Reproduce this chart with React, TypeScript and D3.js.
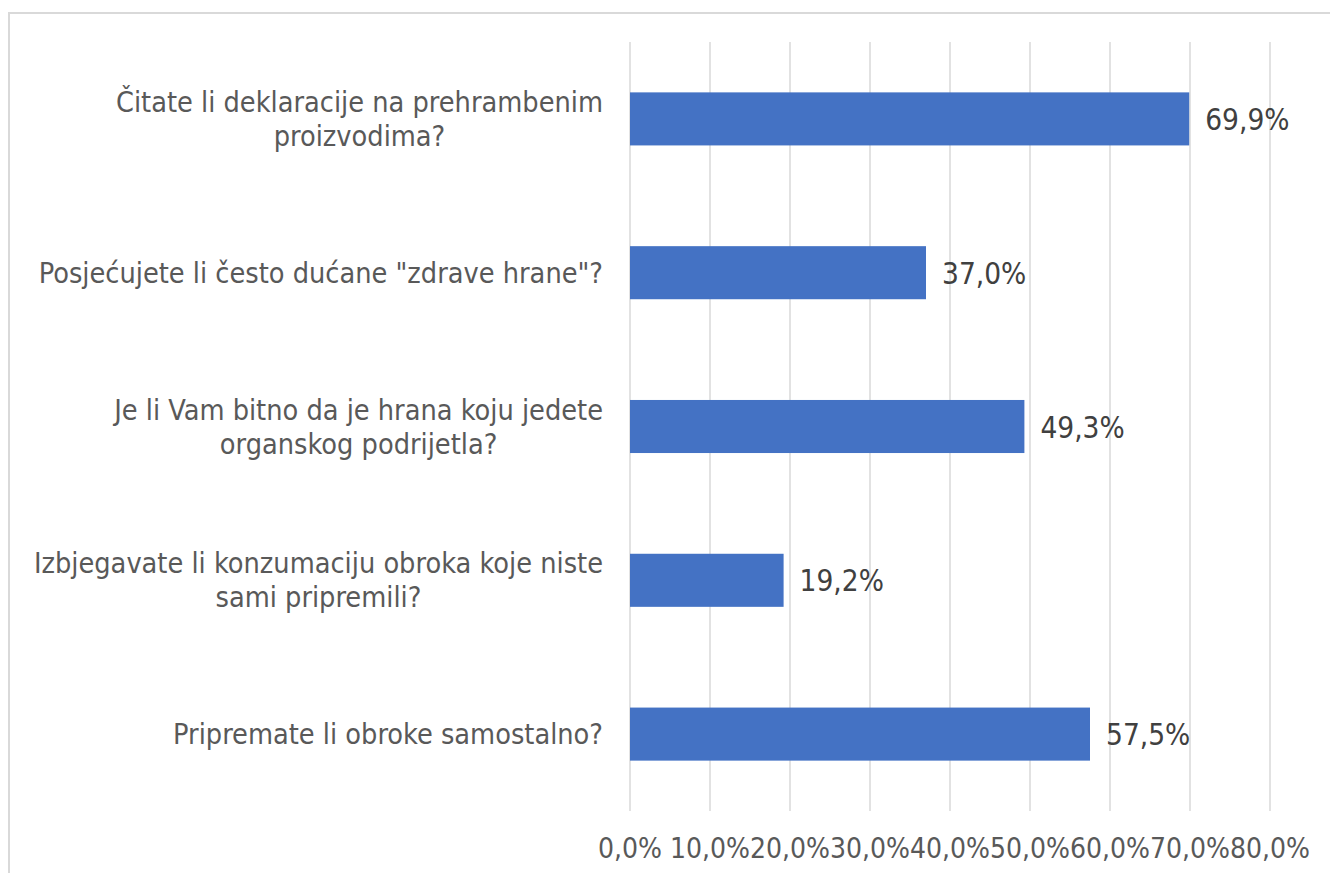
import React, { useRef, useLayoutEffect, useState } from "react";
import * as d3 from "d3";

const categories: string[][] = [
  ["Čitate li deklaracije na prehrambenim", "proizvodima?"],
  ["Posjećujete li često dućane \"zdrave hrane\"?"],
  ["Je li Vam bitno da je hrana koju jedete", "organskog podrijetla?"],
  ["Izbjegavate li konzumaciju obroka koje niste", "sami pripremili?"],
  ["Pripremate li obroke samostalno?"],
];
const values: number[] = [0.699, 0.37, 0.493, 0.192, 0.575];
const ticks: number[] = [0, 0.1, 0.2, 0.3, 0.4, 0.5, 0.6, 0.7, 0.8];

const W = 1330;
const H = 873;
const FONT = "'DejaVu Sans Condensed', 'DejaVu Sans', sans-serif";

const fmt = (v: number) => (v * 100).toFixed(1).replace(".", ",") + "%";

function CatLabel({ lines, right, cy }: { lines: string[]; right: number; cy: number }) {
  const ref = useRef<SVGGElement>(null);
  const [w, setW] = useState(0);
  useLayoutEffect(() => {
    if (!ref.current) return;
    const texts = Array.from(ref.current.querySelectorAll("text")) as SVGTextElement[];
    const m = d3.max(texts, (t) => t.getComputedTextLength()) || 0;
    setW(m);
  }, []);
  const lh = 34;
  const n = lines.length;
  const cx = right - w / 2;
  return (
    <g ref={ref}>
      {lines.map((l, i) => (
        <text
          key={i}
          x={cx}
          y={cy + 10 + (i - (n - 1) / 2) * lh}
          textAnchor="middle"
          fontSize={28.6}
          fill="#595959"
          fontFamily={FONT}
        >
          {l}
        </text>
      ))}
    </g>
  );
}

export default function App() {
  const x = d3.scaleLinear().domain([0, 0.8]).range([630, 1270]);
  const y = d3
    .scaleBand<number>()
    .domain(d3.range(categories.length))
    .range([42, 811])
    .paddingInner(0.655)
    .paddingOuter(0.3275);

  return (
    <svg width={W} height={H} style={{ position: "absolute", left: 0, top: 0 }}>
      <rect x={0} y={0} width={W} height={H} fill="#ffffff" />
      <rect x={9} y={13} width={W + 20} height={H + 20} fill="none" stroke="#d9d9d9" strokeWidth={2} />
      {ticks.map((t) => (
        <line key={t} x1={x(t)} x2={x(t)} y1={42} y2={811} stroke="#d9d9d9" strokeWidth={1.5} />
      ))}
      {values.map((v, i) => (
        <rect key={i} x={x(0)} y={y(i)!} width={x(v) - x(0)} height={y.bandwidth()} fill="#4472c4" />
      ))}
      {values.map((v, i) => (
        <text
          key={i}
          x={x(v) + 16}
          y={y(i)! + y.bandwidth() / 2 + 11}
          fontSize={29.5}
          fill="#404040"
          fontFamily={FONT}
        >
          {fmt(v)}
        </text>
      ))}
      {categories.map((c, i) => (
        <CatLabel key={i} lines={c} right={603} cy={y(i)! + y.bandwidth() / 2} />
      ))}
      {ticks.map((t) => (
        <text key={t} x={x(t)} y={858} textAnchor="middle" fontSize={28} fill="#595959" fontFamily={FONT}>
          {fmt(t)}
        </text>
      ))}
    </svg>
  );
}
